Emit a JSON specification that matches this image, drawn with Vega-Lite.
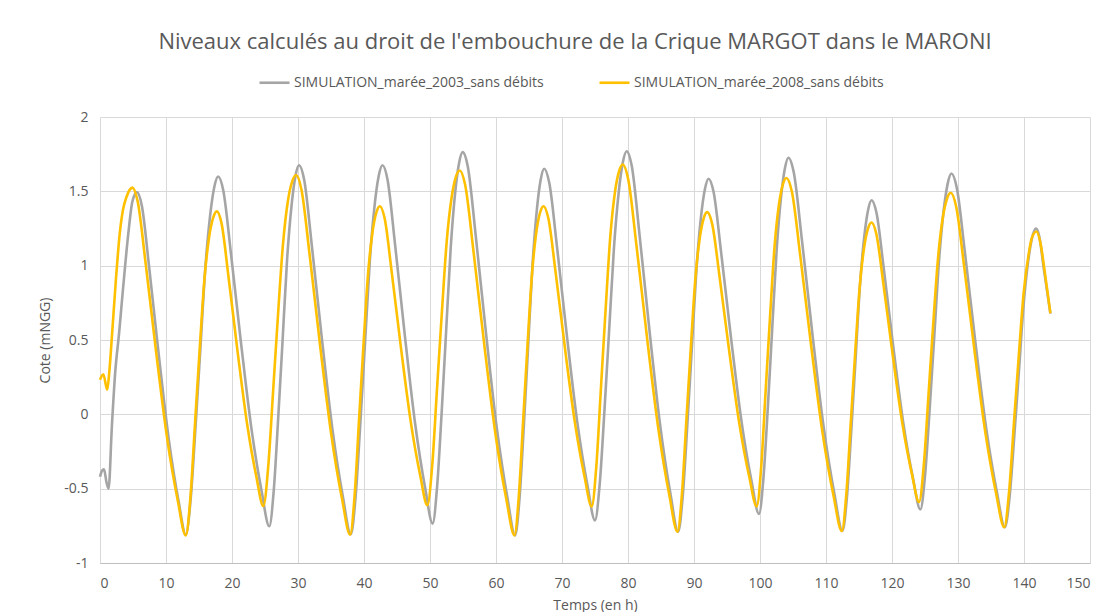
{
  "$schema": "https://vega.github.io/schema/vega-lite/v6.json",
  "width": 990,
  "height": 446,
  "autosize": {"type": "none"},
  "padding": {"left": 100, "top": 117, "right": 21, "bottom": 49},
  "background": "white",
  "title": {
    "text": "Niveaux calculés au droit de l'embouchure de la Crique MARGOT dans le MARONI",
    "font": "Open Sans",
    "fontSize": 22,
    "fontWeight": "normal",
    "color": "#595959",
    "anchor": "middle",
    "frame": "group",
    "offset": 12,
    "dx": -20
  },
  "datasets": {
    "g": [
      {"t": 0, "v": -0.42}, {"t": 0.3, "v": -0.38}, {"t": 0.6, "v": -0.37}, {"t": 1.0, "v": -0.46}, {"t": 1.3, "v": -0.5},
      {"t": 1.8, "v": -0.08}, {"t": 2.3, "v": 0.28}, {"t": 2.9, "v": 0.55}, {"t": 3.5, "v": 0.85}, {"t": 4.3, "v": 1.22}, {"t": 4.9, "v": 1.43}, {"t": 5.6, "v": 1.495},
      {"t": 6.34, "v": 1.403}, {"t": 7.45, "v": 0.988}, {"t": 8.93, "v": 0.389}, {"t": 10.41, "v": -0.165}, {"t": 11.89, "v": -0.58}, {"t": 13.0, "v": -0.81},
      {"t": 13.74, "v": -0.569}, {"t": 14.47, "v": -0.087}, {"t": 15.21, "v": 0.443}, {"t": 15.94, "v": 0.973}, {"t": 16.68, "v": 1.335}, {"t": 17.31, "v": 1.528}, {"t": 17.9, "v": 1.6},
      {"t": 18.68, "v": 1.506}, {"t": 19.84, "v": 1.082}, {"t": 21.39, "v": 0.471}, {"t": 22.94, "v": -0.094}, {"t": 24.49, "v": -0.518}, {"t": 25.65, "v": -0.753},
      {"t": 26.33, "v": -0.51}, {"t": 27.0, "v": -0.025}, {"t": 27.68, "v": 0.51}, {"t": 28.35, "v": 1.044}, {"t": 29.03, "v": 1.408}, {"t": 29.61, "v": 1.602}, {"t": 30.15, "v": 1.675},
      {"t": 30.94, "v": 1.576}, {"t": 32.11, "v": 1.129}, {"t": 33.68, "v": 0.484}, {"t": 35.25, "v": -0.112}, {"t": 36.82, "v": -0.559}, {"t": 38.0, "v": -0.807},
      {"t": 38.72, "v": -0.559}, {"t": 39.44, "v": -0.062}, {"t": 40.16, "v": 0.484}, {"t": 40.88, "v": 1.03}, {"t": 41.6, "v": 1.402}, {"t": 42.22, "v": 1.601}, {"t": 42.8, "v": 1.675},
      {"t": 43.56, "v": 1.579}, {"t": 44.7, "v": 1.145}, {"t": 46.22, "v": 0.518}, {"t": 47.74, "v": -0.06}, {"t": 49.26, "v": -0.494}, {"t": 50.4, "v": -0.735},
      {"t": 51.08, "v": -0.485}, {"t": 51.77, "v": 0.015}, {"t": 52.45, "v": 0.564}, {"t": 53.13, "v": 1.114}, {"t": 53.81, "v": 1.489}, {"t": 54.4, "v": 1.689}, {"t": 54.95, "v": 1.764},
      {"t": 55.75, "v": 1.661}, {"t": 56.94, "v": 1.197}, {"t": 58.53, "v": 0.527}, {"t": 60.12, "v": -0.092}, {"t": 61.71, "v": -0.556}, {"t": 62.9, "v": -0.814},
      {"t": 63.56, "v": -0.567}, {"t": 64.22, "v": -0.074}, {"t": 64.88, "v": 0.468}, {"t": 65.54, "v": 1.011}, {"t": 66.2, "v": 1.381}, {"t": 66.77, "v": 1.578}, {"t": 67.3, "v": 1.652},
      {"t": 68.07, "v": 1.557}, {"t": 69.23, "v": 1.132}, {"t": 70.77, "v": 0.517}, {"t": 72.31, "v": -0.051}, {"t": 73.85, "v": -0.477}, {"t": 75.0, "v": -0.713},
      {"t": 75.72, "v": -0.465}, {"t": 76.44, "v": 0.032}, {"t": 77.16, "v": 0.578}, {"t": 77.88, "v": 1.124}, {"t": 78.6, "v": 1.497}, {"t": 79.22, "v": 1.696}, {"t": 79.8, "v": 1.77},
      {"t": 80.58, "v": 1.668}, {"t": 81.75, "v": 1.207}, {"t": 83.31, "v": 0.541}, {"t": 84.87, "v": -0.073}, {"t": 86.43, "v": -0.534}, {"t": 87.6, "v": -0.79},
      {"t": 88.29, "v": -0.552}, {"t": 88.98, "v": -0.077}, {"t": 89.67, "v": 0.445}, {"t": 90.36, "v": 0.968}, {"t": 91.05, "v": 1.324}, {"t": 91.65, "v": 1.514}, {"t": 92.2, "v": 1.585},
      {"t": 92.97, "v": 1.495}, {"t": 94.11, "v": 1.089}, {"t": 95.64, "v": 0.503}, {"t": 97.17, "v": -0.039}, {"t": 98.7, "v": -0.445}, {"t": 99.85, "v": -0.67},
      {"t": 100.52, "v": -0.43}, {"t": 101.19, "v": 0.049}, {"t": 101.85, "v": 0.576}, {"t": 102.52, "v": 1.103}, {"t": 103.19, "v": 1.462}, {"t": 103.77, "v": 1.654}, {"t": 104.3, "v": 1.726},
      {"t": 105.12, "v": 1.626}, {"t": 106.35, "v": 1.174}, {"t": 107.99, "v": 0.521}, {"t": 109.63, "v": -0.082}, {"t": 111.27, "v": -0.534}, {"t": 112.5, "v": -0.785},
      {"t": 113.16, "v": -0.562}, {"t": 113.82, "v": -0.117}, {"t": 114.48, "v": 0.372}, {"t": 115.14, "v": 0.862}, {"t": 115.8, "v": 1.195}, {"t": 116.37, "v": 1.373}, {"t": 116.9, "v": 1.44},
      {"t": 117.64, "v": 1.357}, {"t": 118.75, "v": 0.982}, {"t": 120.23, "v": 0.442}, {"t": 121.71, "v": -0.058}, {"t": 123.19, "v": -0.432}, {"t": 124.3, "v": -0.64},
      {"t": 125.0, "v": -0.414}, {"t": 125.71, "v": 0.038}, {"t": 126.42, "v": 0.535}, {"t": 127.12, "v": 1.032}, {"t": 127.83, "v": 1.371}, {"t": 128.44, "v": 1.552}, {"t": 129.0, "v": 1.62},
      {"t": 129.81, "v": 1.525}, {"t": 131.03, "v": 1.096}, {"t": 132.65, "v": 0.478}, {"t": 134.27, "v": -0.094}, {"t": 135.89, "v": -0.522}, {"t": 137.1, "v": -0.76},
      {"t": 137.81, "v": -0.559}, {"t": 138.51, "v": -0.157}, {"t": 139.22, "v": 0.285}, {"t": 139.92, "v": 0.727}, {"t": 140.63, "v": 1.029}, {"t": 141.24, "v": 1.19}, {"t": 141.8, "v": 1.25},
      {"t": 142.3, "v": 1.2}, {"t": 143.0, "v": 0.98}, {"t": 144.0, "v": 0.677}
    ],
    "y": [
      {"t": 0, "v": 0.233}, {"t": 0.5, "v": 0.27}, {"t": 1.1, "v": 0.166}, {"t": 1.4, "v": 0.28}, {"t": 1.8, "v": 0.52}, {"t": 2.4, "v": 0.9},
      {"t": 3.0, "v": 1.22}, {"t": 3.5, "v": 1.38}, {"t": 4.0, "v": 1.46}, {"t": 4.5, "v": 1.51}, {"t": 4.9, "v": 1.525},
      {"t": 5.71, "v": 1.431}, {"t": 6.93, "v": 1.01}, {"t": 8.55, "v": 0.402}, {"t": 10.17, "v": -0.16}, {"t": 11.79, "v": -0.581}, {"t": 13.0, "v": -0.815},
      {"t": 13.71, "v": -0.553}, {"t": 14.41, "v": -0.052}, {"t": 15.12, "v": 0.449}, {"t": 15.82, "v": 0.907}, {"t": 16.53, "v": 1.191}, {"t": 17.14, "v": 1.321}, {"t": 17.7, "v": 1.365},
      {"t": 18.41, "v": 1.286}, {"t": 19.46, "v": 0.929}, {"t": 20.87, "v": 0.414}, {"t": 22.28, "v": -0.062}, {"t": 23.69, "v": -0.419}, {"t": 24.75, "v": -0.617},
      {"t": 25.49, "v": -0.35}, {"t": 26.24, "v": 0.162}, {"t": 26.98, "v": 0.675}, {"t": 27.72, "v": 1.142}, {"t": 28.46, "v": 1.432}, {"t": 29.11, "v": 1.565}, {"t": 29.7, "v": 1.61},
      {"t": 30.52, "v": 1.513}, {"t": 31.75, "v": 1.078}, {"t": 33.39, "v": 0.448}, {"t": 35.03, "v": -0.132}, {"t": 36.67, "v": -0.568}, {"t": 37.9, "v": -0.81},
      {"t": 38.58, "v": -0.545}, {"t": 39.25, "v": -0.036}, {"t": 39.93, "v": 0.472}, {"t": 40.6, "v": 0.936}, {"t": 41.28, "v": 1.223}, {"t": 41.86, "v": 1.356}, {"t": 42.4, "v": 1.4},
      {"t": 43.12, "v": 1.32}, {"t": 44.2, "v": 0.957}, {"t": 45.64, "v": 0.434}, {"t": 47.08, "v": -0.049}, {"t": 48.52, "v": -0.411}, {"t": 49.6, "v": -0.612},
      {"t": 50.34, "v": -0.342}, {"t": 51.07, "v": 0.176}, {"t": 51.81, "v": 0.694}, {"t": 52.54, "v": 1.167}, {"t": 53.28, "v": 1.46}, {"t": 53.91, "v": 1.595}, {"t": 54.5, "v": 1.64},
      {"t": 55.33, "v": 1.542}, {"t": 56.58, "v": 1.1}, {"t": 58.24, "v": 0.462}, {"t": 59.9, "v": -0.127}, {"t": 61.56, "v": -0.569}, {"t": 62.8, "v": -0.814},
      {"t": 63.46, "v": -0.548}, {"t": 64.12, "v": -0.039}, {"t": 64.78, "v": 0.47}, {"t": 65.44, "v": 0.935}, {"t": 66.1, "v": 1.223}, {"t": 66.67, "v": 1.356}, {"t": 67.2, "v": 1.4},
      {"t": 67.93, "v": 1.319}, {"t": 69.03, "v": 0.956}, {"t": 70.49, "v": 0.43}, {"t": 71.95, "v": -0.054}, {"t": 73.41, "v": -0.418}, {"t": 74.5, "v": -0.62},
      {"t": 75.21, "v": -0.344}, {"t": 75.91, "v": 0.185}, {"t": 76.62, "v": 0.714}, {"t": 77.32, "v": 1.197}, {"t": 78.03, "v": 1.496}, {"t": 78.64, "v": 1.634}, {"t": 79.2, "v": 1.68},
      {"t": 80.03, "v": 1.581}, {"t": 81.28, "v": 1.137}, {"t": 82.94, "v": 0.494}, {"t": 84.6, "v": -0.098}, {"t": 86.26, "v": -0.543}, {"t": 87.5, "v": -0.79},
      {"t": 88.18, "v": -0.532}, {"t": 88.85, "v": -0.037}, {"t": 89.53, "v": 0.457}, {"t": 90.2, "v": 0.909}, {"t": 90.88, "v": 1.188}, {"t": 91.46, "v": 1.317}, {"t": 92.0, "v": 1.36},
      {"t": 92.75, "v": 1.281}, {"t": 93.88, "v": 0.924}, {"t": 95.38, "v": 0.41}, {"t": 96.88, "v": -0.066}, {"t": 98.38, "v": -0.422}, {"t": 99.5, "v": -0.62},
      {"t": 100.18, "v": -0.355}, {"t": 100.85, "v": 0.154}, {"t": 101.53, "v": 0.662}, {"t": 102.2, "v": 1.126}, {"t": 102.88, "v": 1.413}, {"t": 103.46, "v": 1.546}, {"t": 104.0, "v": 1.59},
      {"t": 104.84, "v": 1.495}, {"t": 106.1, "v": 1.067}, {"t": 107.78, "v": 0.45}, {"t": 109.46, "v": -0.12}, {"t": 111.14, "v": -0.548}, {"t": 112.4, "v": -0.785},
      {"t": 113.08, "v": -0.536}, {"t": 113.75, "v": -0.059}, {"t": 114.43, "v": 0.419}, {"t": 115.1, "v": 0.854}, {"t": 115.78, "v": 1.124}, {"t": 116.36, "v": 1.249}, {"t": 116.9, "v": 1.29},
      {"t": 117.62, "v": 1.215}, {"t": 118.7, "v": 0.876}, {"t": 120.14, "v": 0.388}, {"t": 121.58, "v": -0.064}, {"t": 123.02, "v": -0.402}, {"t": 124.1, "v": -0.59},
      {"t": 124.82, "v": -0.34}, {"t": 125.54, "v": 0.138}, {"t": 126.26, "v": 0.616}, {"t": 126.98, "v": 1.053}, {"t": 127.7, "v": 1.324}, {"t": 128.32, "v": 1.448}, {"t": 128.9, "v": 1.49},
      {"t": 129.71, "v": 1.4}, {"t": 130.93, "v": 0.995}, {"t": 132.55, "v": 0.41}, {"t": 134.17, "v": -0.13}, {"t": 135.79, "v": -0.535}, {"t": 137.0, "v": -0.76},
      {"t": 137.74, "v": -0.521}, {"t": 138.47, "v": -0.063}, {"t": 139.21, "v": 0.394}, {"t": 139.94, "v": 0.812}, {"t": 140.68, "v": 1.071}, {"t": 141.21, "v": 1.19}, {"t": 141.9, "v": 1.23},
      {"t": 142.5, "v": 1.15}, {"t": 143.2, "v": 0.94}, {"t": 144.0, "v": 0.68}
    ]
  },
  "layer": [
    {
      "data": {"name": "g"},
      "mark": {"type": "line", "strokeWidth": 2.6, "interpolate": "monotone"},
      "encoding": {
        "x": {"field": "t", "type": "quantitative", "scale": {"domain": [0, 150], "nice": false},
          "axis": {"title": "Temps (en h)", "values": [0, 10, 20, 30, 40, 50, 60, 70, 80, 90, 100, 110, 120, 130, 140, 150]}},
        "y": {"field": "v", "type": "quantitative", "scale": {"domain": [-1, 2], "nice": false},
          "axis": {"title": "Cote (mNGG)", "values": [-1, -0.5, 0, 0.5, 1, 1.5, 2], "labelExpr": "datum.value + ''", "domain": false, "labelPadding": 12, "titlePadding": 11}},
        "color": {
          "datum": "SIMULATION_marée_2003_sans débits",
          "type": "nominal",
          "scale": {"domain": ["SIMULATION_marée_2003_sans débits", "SIMULATION_marée_2008_sans débits"], "range": ["#A5A5A5", "#FFC000"]},
          "legend": {"orient": "none", "legendX": 158, "legendY": -51, "direction": "horizontal", "title": null,
            "symbolType": "stroke", "symbolSize": 900, "symbolStrokeWidth": 2.6, "columnPadding": 50, "labelOffset": 3, "labelLimit": 500,
            "labelFont": "Open Sans", "labelFontSize": 14, "labelColor": "#595959"}
        }
      }
    },
    {
      "data": {"name": "y"},
      "mark": {"type": "line", "strokeWidth": 2.6, "interpolate": "monotone"},
      "encoding": {
        "x": {"field": "t", "type": "quantitative"},
        "y": {"field": "v", "type": "quantitative"},
        "color": {"datum": "SIMULATION_marée_2008_sans débits", "type": "nominal"}
      }
    }
  ],
  "config": {
    "view": {"stroke": null},
    "axis": {
      "grid": true,
      "gridColor": "#D9D9D9",
      "gridWidth": 1,
      "ticks": false,
      "domainColor": "#BFBFBF",
      "labelColor": "#595959",
      "labelFont": "Open Sans",
      "labelFontSize": 14,
      "titleColor": "#595959",
      "titleFont": "Open Sans",
      "titleFontSize": 14,
      "titleFontWeight": "normal"
    },
    "axisX": {"labelPadding": 13, "titlePadding": 8}
  }
}
